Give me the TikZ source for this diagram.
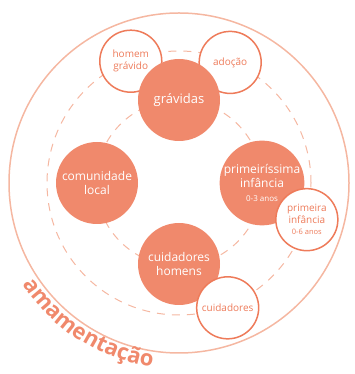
\documentclass[tikz,border=0pt]{standalone}
\usepackage{fontspec}
\setmainfont{Open Sans}
\usetikzlibrary{calc,decorations.text}

\definecolor{salmao}{HTML}{F0896C}
\definecolor{salmaoescuro}{HTML}{EE7B5A}
\definecolor{salmaoclaro}{HTML}{F5B7A1}

\tikzset{
  tema/.style={circle, fill=salmao, text=white, minimum size=82pt, inner sep=0pt,
    align=center, font=\fontsize{12}{14}\selectfont},
  sub/.style={circle, draw=salmaoescuro, line width=1.5pt, fill=white, text=salmaoescuro,
    minimum size=62pt, inner sep=0pt, align=center, font=\fontsize{10}{11.7}\selectfont},
  anel/.style={salmaoclaro, line width=1pt, dash pattern=on 8pt off 7pt},
}

\begin{document}
\begin{tikzpicture}[x=1pt,y=1pt]
  \useasboundingbox (0,0) rectangle (354,374);
  \coordinate (ctr) at (179,191);
  % Draw rings
  \draw[anel] (ctr) circle (132pt);
  \draw[anel] (ctr) circle (83pt);
  \draw[salmaoclaro, line width=1.5pt] (ctr) circle (170pt);
  % Label along the outer ring
  \path[decorate, decoration={text along path, text align=left, text color=salmao,
      text={|\fontsize{22}{22}\selectfont\bfseries|amamentação}}]
    ($(ctr)+(213:186pt)$) arc[start angle=213, end angle=272, radius=186pt];
  % Outer topics behind
  \node[sub] (homem) at ($(ctr)+(111.6:131pt)$) {homem\\grávido};
  \node[sub] (adocao) at ($(ctr)+(67:131pt)$) {adoção};
  % Main topics
  \node[tema] (gravidas) at ($(ctr)+(90:83pt)$) {\fontsize{13}{15}\selectfont grávidas};
  \node[tema] (comunidade) at ($(ctr)+(180:82pt)$) {comunidade\\local};
  \node[tema] (primeirissima) at ($(ctr)+(0:83pt)$) {primeiríssima\\infância\\{\fontsize{8}{10}\selectfont 0-3 anos}};
  \node[tema] (homens) at ($(ctr)+(270:81pt)$) {cuidadores\\homens};
  % Outer topics in front
  \node[sub] (primeira) at ($(ctr)+(-16:133pt)$) {primeira\\infância\\{\fontsize{7.5}{9}\selectfont 0-6 anos}};
  \node[sub] (cuidadores) at ($(ctr)+(-68.7:134pt)$) {cuidadores};
\end{tikzpicture}
\end{document}
